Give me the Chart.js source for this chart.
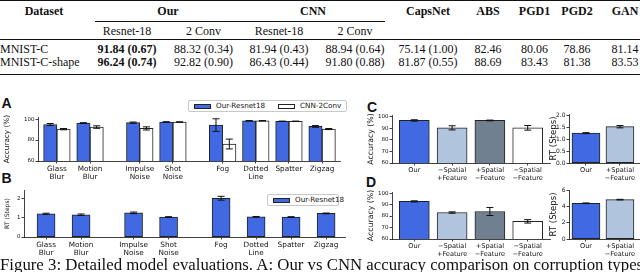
<!DOCTYPE html>
<html>
<head>
<meta charset="utf-8">
<script src="https://cdn.jsdelivr.net/npm/chart.js@4.4.1/dist/chart.umd.min.js"></script>
<style>
  html, body { margin: 0; padding: 0; background: #fff; }
  body { width: 640px; height: 272px; overflow: hidden; position: relative; font-family: "DejaVu Sans"; color: #111; }
  canvas { position: absolute; }
  #tbl { position: absolute; left: 0; top: 0; width: 652px; table-layout: fixed;
         border-collapse: separate; border-spacing: 0; font: 12px/13px "Liberation Serif"; color: #111; }
  #tbl th, #tbl td { padding: 0; text-align: center; white-space: nowrap; vertical-align: top; }
  #tbl tr.h1 > * { border-top: 1.5px solid #111; padding-top: 4px; }
  #tbl tr.h1 .grp { border-bottom: 0.8px solid #111; padding-bottom: 2.5px; }
  #tbl tr.h2 > * { border-bottom: 0.8px solid #111; padding-top: 3px; padding-bottom: 1.5px; font-weight: normal; }
  #tbl tr.r1 > * { padding-top: 3.4px; }
  #tbl tr.r2 > * { border-bottom: 1.5px solid #111; padding-bottom: 4.5px; }
  #tbl td.name { text-align: left; }
  .panel { position: absolute; font: bold 14px/14px "Liberation Sans"; color: #111; }
  .legend { position: absolute; height: 12px; box-sizing: border-box; border: 0.8px solid #c8c8c8; border-radius: 2px;
            display: flex; align-items: center; padding-left: 5px; font: 7.2px/8px "DejaVu Sans"; color: #111; white-space: nowrap; }
  .legend .sw { display: inline-block; width: 17px; height: 5px; box-sizing: border-box; border: 0.8px solid #222; margin-right: 5px; }
  .legend .it { display: flex; align-items: center; margin-right: 13px; }
  #caption { position: absolute; left: 0; top: 256px; font: 16.8px/17px "Liberation Serif"; color: #111; white-space: nowrap; }
</style>
</head>
<body>
<table id="tbl"></table>
<div class="panel" style="left:1.5px;top:96px">A</div>
<div class="panel" style="left:1.5px;top:171px">B</div>
<div class="panel" style="left:367px;top:100px">C</div>
<div class="panel" style="left:366px;top:175px">D</div>
<div class="legend" id="legA" style="left:188px;top:100px;width:159px"></div>
<div class="legend" id="legB" style="left:267px;top:194px;width:72px"></div>
<canvas id="cA" width="348" height="80" style="left:0;top:108px"></canvas>
<canvas id="cB" width="352" height="76" style="left:0;top:182px"></canvas>
<canvas id="cC" width="190" height="76" style="left:362px;top:108px"></canvas>
<canvas id="cD" width="190" height="76" style="left:362px;top:184px"></canvas>
<canvas id="cCrt" width="92" height="76" style="left:548px;top:108px"></canvas>
<canvas id="cDrt" width="92" height="76" style="left:548px;top:184px"></canvas>
<div id="caption">Figure 3: Detailed model evaluations. A: Our vs CNN accuracy comparison on corruption types.</div>
<script>
/* ---------- table data ---------- */
const TABLE_DATASETS = ['MNIST-C', 'MNIST-C-shape'];
const GROUPS     = ['Our', 'CNN'];
const SUBMODELS  = ['Resnet-18', '2 Conv'];
const BASELINES  = ['CapsNet', 'ABS', 'PGD1', 'PGD2', 'GAN'];
const OUR_RESNET = [91.84, 96.24], OUR_RESNET_SD = [0.67, 0.74];
const OUR_2CONV  = [88.32, 92.82], OUR_2CONV_SD  = [0.34, 0.90];
const CNN_RESNET = [81.94, 86.43], CNN_RESNET_SD = [0.43, 0.44];
const CNN_2CONV  = [88.94, 91.80], CNN_2CONV_SD  = [0.64, 0.88];
const CAPSNET    = [75.14, 81.87], CAPSNET_SD    = [1.00, 0.55];
const ABS  = [82.46, 88.69];
const PGD1 = [80.06, 83.43];
const PGD2 = [78.86, 81.38];
const GAN  = [81.14, 83.53];

/* ---------- panel A / B ---------- */
const CORRUPTIONS = ['Glass Blur', 'Motion Blur', 'Impulse Noise', 'Shot Noise', 'Fog', 'Dotted Line', 'Spatter', 'Zigzag'];
const SERIES_A    = ['Our-Resnet18', 'CNN-2Conv'];
const ACC_OUR     = [94.8, 96.2, 96.6, 97.2, 94.3, 98.4, 97.9, 93.0];
const ACC_OUR_ERR = [1.0, 0.4, 0.6, 0.3, 6.0, 0.2, 0.2, 0.8];
const ACC_CNN     = [90.4, 92.4, 91.1, 97.2, 76.2, 98.4, 97.9, 90.5];
const ACC_CNN_ERR = [0.6, 1.2, 1.5, 0.2, 4.7, 0.2, 0.2, 0.5];
const RT_OUR      = [1.21, 1.16, 1.26, 1.04, 2.02, 1.05, 1.04, 1.23];
const RT_OUR_ERR  = [0.03, 0.04, 0.04, 0.02, 0.10, 0.02, 0.02, 0.02];
const TICKS_A = [60, 80, 100];
const TICKS_B = [0, 1, 2];

/* ---------- panel C / D (ablation) ---------- */
const VARIANTS      = ['Our', '−Spatial +Feature', '+Spatial −Feature', '−Spatial −Feature'];
const ACC_C         = [96.8, 90.4, 96.8, 90.4];
const ACC_C_ERR     = [0.6, 1.8, 0.3, 2.0];
const ACC_D         = [92.8, 83.1, 84.0, 75.4];
const ACC_D_ERR     = [0.5, 0.6, 3.5, 1.5];
const RT_VARIANTS   = ['Our', '+Spatial −Feature'];
const RT_C          = [1.25, 1.52];
const RT_C_ERR      = [0.02, 0.05];
const RT_D          = [4.45, 4.90];
const RT_D_ERR      = [0.04, 0.04];
const TICKS_ACC_CD  = [60, 70, 80, 90, 100];
const TICKS_RT_C    = [0, 0.5, 1, 1.5, 2];
const TICKS_RT_D    = [0, 2, 4, 6];

const BLUE = '#4169e1', WHITE = '#ffffff';
const VARIANT_COLORS = ['#4169e1', '#b0c4de', '#708090', '#ffffff'];
const RT_COLORS = ['#4169e1', '#b0c4de'];
const EDGE = '#222';
const FONT = 'DejaVu Sans';

/* ---------- table ---------- */
const fmt = (v, sd) => v.toFixed(2) + (sd !== undefined ? ' (' + sd.toFixed(2) + ')' : '');
(function buildTable(){
  const widths = [88, 78, 75, 76, 76, 70, 50, 43, 42, 54];
  let h = '<colgroup>' + widths.map(w => `<col style="width:${w}px">`).join('') + '</colgroup>';
  h += '<tr class="h1"><th>Dataset</th>' +
       `<th colspan="2"><div class="grp" style="margin-left:7px">${GROUPS[0]}</div></th>` +
       `<th colspan="2"><div class="grp" style="margin-right:8px">${GROUPS[1]}</div></th>` +
       BASELINES.map(b => `<th>${b}</th>`).join('') + '</tr>';
  h += '<tr class="h2"><th></th>' + [...SUBMODELS, ...SUBMODELS].map(s => `<th>${s}</th>`).join('') +
       BASELINES.map(() => '<th></th>').join('') + '</tr>';
  TABLE_DATASETS.forEach((d, i) => {
    h += `<tr class="r${i+1}"><td class="name">${d}</td>` +
      `<td><b>${fmt(OUR_RESNET[i], OUR_RESNET_SD[i])}</b></td>` +
      `<td>${fmt(OUR_2CONV[i], OUR_2CONV_SD[i])}</td>` +
      `<td>${fmt(CNN_RESNET[i], CNN_RESNET_SD[i])}</td>` +
      `<td>${fmt(CNN_2CONV[i], CNN_2CONV_SD[i])}</td>` +
      `<td>${fmt(CAPSNET[i], CAPSNET_SD[i])}</td>` +
      `<td>${fmt(ABS[i])}</td><td>${fmt(PGD1[i])}</td><td>${fmt(PGD2[i])}</td><td>${fmt(GAN[i])}</td></tr>`;
  });
  document.getElementById('tbl').innerHTML = h;
})();

/* ---------- legends ---------- */
function legend(elId, names, colors){
  document.getElementById(elId).innerHTML = names.map((n, i) =>
    `<span class="it"><span class="sw" style="background:${colors[i]}"></span>${n}</span>`).join('');
}
legend('legA', SERIES_A, [BLUE, WHITE]);
legend('legB', SERIES_A.slice(0, 1), [BLUE]);

/* ---------- error bars ---------- */
const errorBars = {
  id: 'errorBars',
  afterDatasetsDraw(chart){
    const ctx = chart.ctx, y = chart.scales.y;
    ctx.save();
    ctx.strokeStyle = '#111';
    ctx.lineWidth = 1;
    chart.data.datasets.forEach((ds, di) => {
      if (!ds.errors) return;
      chart.getDatasetMeta(di).data.forEach((bar, i) => {
        const v = ds.data[i].y, e = ds.errors[i], cw = 3.5;
        const y0 = y.getPixelForValue(v - e), y1 = y.getPixelForValue(v + e);
        ctx.beginPath();
        ctx.moveTo(bar.x, y0); ctx.lineTo(bar.x, y1);
        ctx.moveTo(bar.x - cw, y0); ctx.lineTo(bar.x + cw, y0);
        ctx.moveTo(bar.x - cw, y1); ctx.lineTo(bar.x + cw, y1);
        ctx.stroke();
      });
    });
    ctx.restore();
  }
};

// positions with a wider gap after every second/fourth corruption
const groupPos = n => Array.from({length: n}, (_, i) => i + (i >= 2 ? 0.5 : 0) + (i >= 4 ? 0.5 : 0));
const seqPos = n => Array.from({length: n}, (_, i) => i);

function barChart(id, o){
  const pos = o.pos;
  return new Chart(document.getElementById(id), {
    type: 'bar',
    data: {
      datasets: o.series.map(s => ({
        data: s.values.map((v, i) => ({x: pos[i], y: v})),
        errors: s.errors,
        backgroundColor: s.color,
        borderColor: EDGE,
        borderWidth: 1,
        borderSkipped: false,
        barThickness: o.barW
      }))
    },
    options: {
      responsive: false,
      animation: false,
      events: [],
      layout: {padding: {top: o.padTop, right: o.padRight, left: 0, bottom: 0}},
      plugins: {legend: {display: false}, tooltip: {enabled: false}},
      scales: {
        x: {
          type: 'linear', min: o.xmin, max: o.xmax, offset: false,
          afterBuildTicks: s => { s.ticks = pos.map(v => ({value: v})); },
          afterFit: s => { s.height = o.xh; },
          border: {display: true, color: '#111', width: 0.8},
          grid: {offset: false, drawOnChartArea: false, drawTicks: true, tickLength: 2.5, tickColor: '#111', lineWidth: 0.8},
          ticks: {autoSkip: false, maxRotation: 0, minRotation: 0, padding: 1, color: '#111',
                  font: {family: FONT, size: o.xfont, lineHeight: 1.15},
                  callback: (v, i) => o.labels[i].split(' ')}
        },
        y: {
          min: o.ymin, max: o.ymax,
          afterBuildTicks: s => { s.ticks = o.yticks.map(v => ({value: v})); },
          afterFit: s => { s.width = o.yw; },
          border: {display: true, color: '#111', width: 0.8},
          grid: {drawOnChartArea: false, drawTicks: true, tickLength: 2.5, tickColor: '#111', lineWidth: 0.8},
          ticks: {padding: 1, color: '#111', font: {family: FONT, size: o.yfont || 5.5},
                  callback: v => o.yfmt ? o.yfmt(v) : String(v)},
          title: {display: true, text: o.ytitle, color: '#111',
                  font: {family: FONT, size: o.ytitleSize}, padding: {top: o.ytitlePad, bottom: 0}}
        }
      }
    },
    plugins: [errorBars]
  });
}

/* A */
barChart('cA', {
  pos: groupPos(8), labels: CORRUPTIONS, xmin: -0.57, xmax: 8.54, barW: 13.3,
  series: [{values: ACC_OUR, errors: ACC_OUR_ERR, color: BLUE},
           {values: ACC_CNN, errors: ACC_CNN_ERR, color: WHITE}],
  padTop: 9, padRight: 8, xh: 27, yw: 38, xfont: 7.3,
  ymin: 60, ymax: 102, yticks: TICKS_A, ytitle: 'Accuracy (%)', ytitleSize: 7.3, ytitlePad: 3
});
/* B */
barChart('cB', {
  pos: groupPos(8), labels: CORRUPTIONS, xmin: -0.63, xmax: 8.54, barW: 18,
  series: [{values: RT_OUR, errors: RT_OUR_ERR, color: BLUE}],
  padTop: 8, padRight: 7, xh: 21, yw: 24, xfont: 7.3,
  ymin: 0, ymax: 2.45, yticks: TICKS_B, ytitle: 'RT (Steps)', ytitleSize: 6, ytitlePad: 4
});
/* C */
barChart('cC', {
  pos: seqPos(4), labels: VARIANTS, xmin: -0.59, xmax: 3.59, barW: 30,
  series: [{values: ACC_C, errors: ACC_C_ERR, color: VARIANT_COLORS}],
  padTop: 7, padRight: 2, xh: 21, yw: 30, xfont: 6.6,
  ymin: 60, ymax: 101.5, yticks: TICKS_ACC_CD, ytitle: 'Accuracy (%)', ytitleSize: 7.8, ytitlePad: 4.3
});
/* D */
barChart('cD', {
  pos: seqPos(4), labels: VARIANTS, xmin: -0.59, xmax: 3.59, barW: 30,
  series: [{values: ACC_D, errors: ACC_D_ERR, color: VARIANT_COLORS}],
  padTop: 8, padRight: 2, xh: 21, yw: 30, xfont: 6.6,
  ymin: 60, ymax: 101, yticks: TICKS_ACC_CD, ytitle: 'Accuracy (%)', ytitleSize: 7.8, ytitlePad: 4.3
});
/* C - RT */
barChart('cCrt', {
  pos: seqPos(2), labels: RT_VARIANTS, xmin: -0.5, xmax: 1.59, barW: 28,
  series: [{values: RT_C, errors: RT_C_ERR, color: RT_COLORS}],
  padTop: 6, padRight: 0, xh: 21, yw: 21, xfont: 6.6,
  ymin: 0, ymax: 2.05, yticks: TICKS_RT_C, yfmt: v => v.toFixed(1), yfont: 6,
  ytitle: 'RT (Steps)', ytitleSize: 8.6, ytitlePad: 0.3
});
/* D - RT */
barChart('cDrt', {
  pos: seqPos(2), labels: RT_VARIANTS, xmin: -0.5, xmax: 1.59, barW: 28,
  series: [{values: RT_D, errors: RT_D_ERR, color: RT_COLORS}],
  padTop: 6, padRight: 0, xh: 21, yw: 21, xfont: 6.6,
  ymin: 0, ymax: 6.1, yticks: TICKS_RT_D, yfont: 6,
  ytitle: 'RT (Steps)', ytitleSize: 8.6, ytitlePad: 0.3
});
</script>
</body>
</html>
